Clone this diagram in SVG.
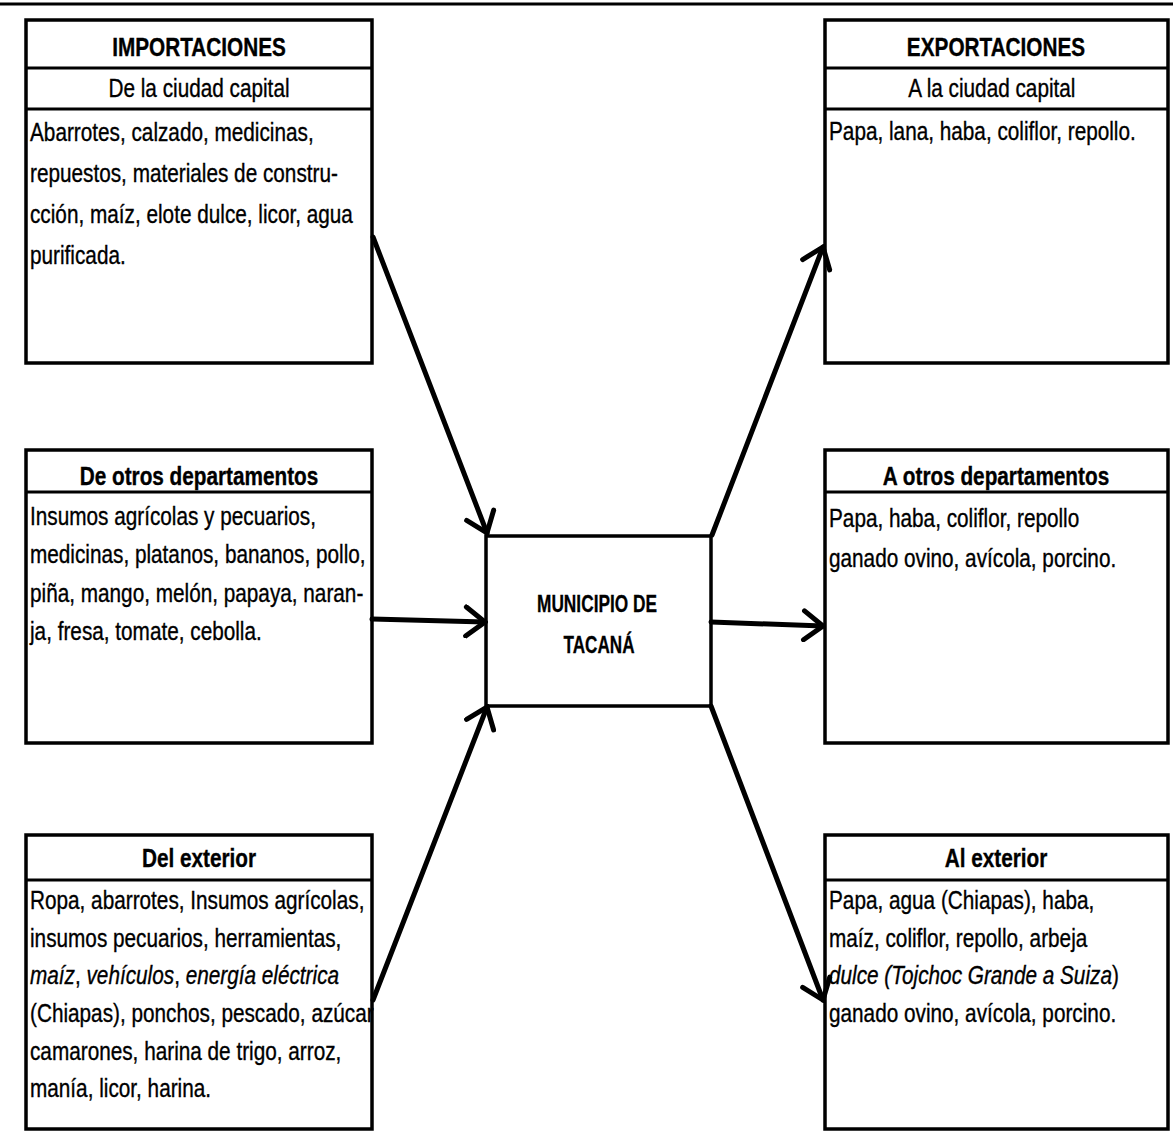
<svg xmlns="http://www.w3.org/2000/svg" width="1173" height="1131" viewBox="0 0 1173 1131">
<style>
.box{fill:#fff;stroke:#000;stroke-width:3.5}
.div{stroke:#000;stroke-width:3}
.t{font-family:"Liberation Sans Narrow","Arial Narrow","Liberation Sans",Arial,sans-serif;font-size:25px;fill:#000;stroke:#000;stroke-width:0.35}
.h{font-weight:bold;text-anchor:middle}
.c{text-anchor:middle}
.i{font-style:italic}
.conn{stroke:#000;stroke-width:5;fill:none;stroke-linecap:round}
.ctr{font-family:"Liberation Sans Narrow","Arial Narrow","Liberation Sans",Arial,sans-serif;font-size:23px;font-weight:bold;text-anchor:middle;fill:#000;stroke:#000;stroke-width:0.3}
</style>
<defs>
<marker id="ah" viewBox="0 0 26 34" refX="23" refY="17" markerWidth="26" markerHeight="34" markerUnits="userSpaceOnUse" orient="auto">
<path d="M4,2.5 L23,17 L4,31.5" fill="none" stroke="#000" stroke-width="5" stroke-linecap="round" stroke-linejoin="miter"/>
</marker>
</defs>
<rect width="1173" height="1131" fill="#fff"/>
<line x1="0" y1="4" x2="1173" y2="4" stroke="#000" stroke-width="3"/>

<g id="imp-capital">
<rect class="box" x="26" y="20" width="346" height="343"/>
<line class="div" x1="26" y1="68" x2="372" y2="68"/>
<line class="div" x1="26" y1="109" x2="372" y2="109"/>
<g transform="translate(199,0) scale(0.83,1)">
<text class="t h" x="0" y="56">IMPORTACIONES</text>
<text class="t c" x="0" y="97">De la ciudad capital</text>
</g>
<g transform="translate(30,0) scale(0.83,1)">
<text class="t" x="0" y="141">Abarrotes, calzado, medicinas,</text>
<text class="t" x="0" y="182">repuestos, materiales de constru-</text>
<text class="t" x="0" y="223">cción, maíz, elote dulce, licor, agua</text>
<text class="t" x="0" y="264">purificada.</text>
</g>
</g>

<g id="imp-deptos">
<rect class="box" x="26" y="450" width="346" height="293"/>
<line class="div" x1="26" y1="492" x2="372" y2="492"/>
<g transform="translate(199,0) scale(0.83,1)">
<text class="t h" x="0" y="485">De otros departamentos</text>
</g>
<g transform="translate(30,0) scale(0.83,1)">
<text class="t" x="0" y="525">Insumos agrícolas y pecuarios,</text>
<text class="t" x="0" y="563">medicinas, platanos, bananos, pollo,</text>
<text class="t" x="0" y="602">piña, mango, melón, papaya, naran-</text>
<text class="t" x="0" y="640">ja, fresa, tomate, cebolla.</text>
</g>
</g>

<g id="imp-exterior">
<rect class="box" x="26" y="835" width="346" height="294"/>
<line class="div" x1="26" y1="880" x2="372" y2="880"/>
<g transform="translate(199,0) scale(0.83,1)">
<text class="t h" x="0" y="867">Del exterior</text>
</g>
<g transform="translate(30,0) scale(0.83,1)">
<text class="t" x="0" y="909">Ropa, abarrotes, Insumos agrícolas,</text>
<text class="t" x="0" y="947">insumos pecuarios, herramientas,</text>
<text class="t" x="0" y="984"><tspan class="i">maíz</tspan>, <tspan class="i">vehículos</tspan>, <tspan class="i">energía eléctrica</tspan></text>
<text class="t" x="0" y="1022">(Chiapas), ponchos, pescado, azúcar</text>
<text class="t" x="0" y="1060">camarones, harina de trigo, arroz,</text>
<text class="t" x="0" y="1097">manía, licor, harina.</text>
</g>
</g>

<g id="exp-capital">
<rect class="box" x="825" y="20" width="343" height="343"/>
<line class="div" x1="825" y1="68" x2="1168" y2="68"/>
<line class="div" x1="825" y1="109" x2="1168" y2="109"/>
<g transform="translate(996,0) scale(0.83,1)">
<text class="t h" x="0" y="56">EXPORTACIONES</text>
<text class="t c" x="-5" y="97">A la ciudad capital</text>
</g>
<g transform="translate(829,0) scale(0.83,1)">
<text class="t" x="0" y="140">Papa, lana, haba, coliflor, repollo.</text>
</g>
</g>

<g id="exp-deptos">
<rect class="box" x="825" y="450" width="343" height="293"/>
<line class="div" x1="825" y1="492" x2="1168" y2="492"/>
<g transform="translate(996,0) scale(0.83,1)">
<text class="t h" x="0" y="485">A otros departamentos</text>
</g>
<g transform="translate(829,0) scale(0.83,1)">
<text class="t" x="0" y="527">Papa, haba, coliflor, repollo</text>
<text class="t" x="0" y="567">ganado ovino, avícola, porcino.</text>
</g>
</g>

<g id="exp-exterior">
<rect class="box" x="825" y="835" width="343" height="294"/>
<line class="div" x1="825" y1="880" x2="1168" y2="880"/>
<g transform="translate(996,0) scale(0.83,1)">
<text class="t h" x="0" y="867">Al exterior</text>
</g>
<g transform="translate(829,0) scale(0.83,1)">
<text class="t" x="0" y="909">Papa, agua (Chiapas), haba,</text>
<text class="t" x="0" y="947">maíz, coliflor, repollo, arbeja</text>
<text class="t" x="0" y="984"><tspan class="i">dulce (Tojchoc Grande a Suiza</tspan>)</text>
<text class="t" x="0" y="1022">ganado ovino, avícola, porcino.</text>
</g>
</g>

<g id="municipio">
<rect class="box" x="486" y="536" width="225" height="170"/>
<text class="ctr" x="597" y="612" textLength="120" lengthAdjust="spacingAndGlyphs">MUNICIPIO DE</text>
<text class="ctr" x="599" y="653" textLength="71" lengthAdjust="spacingAndGlyphs">TACANÁ</text>
</g>

<g id="connectors">
<path class="conn" d="M373,237 L487,533" marker-end="url(#ah)"/>
<path class="conn" d="M372,619 L485,622" marker-end="url(#ah)"/>
<path class="conn" d="M373,1000 L487,707" marker-end="url(#ah)"/>
<path class="conn" d="M712,535 L823,247" marker-end="url(#ah)"/>
<path class="conn" d="M711,622 L823,626" marker-end="url(#ah)"/>
<path class="conn" d="M711,706 L823,1000" marker-end="url(#ah)"/>
</g>
</svg>
